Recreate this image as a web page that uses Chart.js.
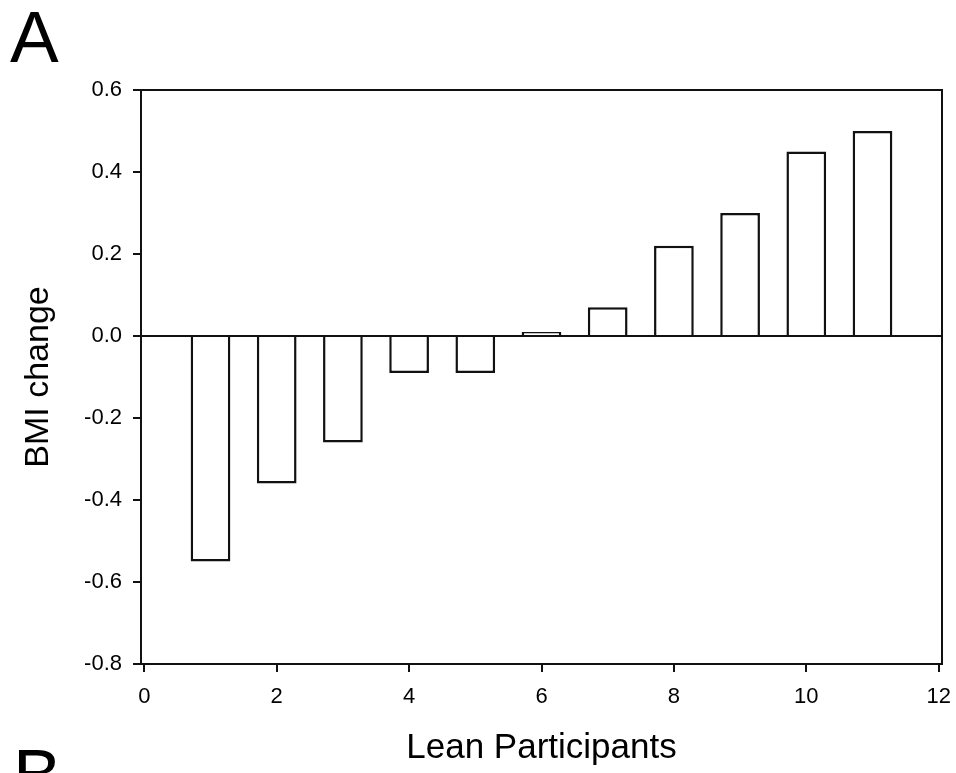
<!DOCTYPE html>
<html>
<head>
<meta charset="utf-8">
<title>BMI change – lean participants</title>
<script src="https://cdn.jsdelivr.net/npm/chart.js@4"></script>
<style>
  html, body { margin: 0; padding: 0; background: #fff; }
  canvas { display: block; }
</style>
</head>
<body>
<canvas id="bmiChart" width="956" height="773"></canvas>
<script>
// data
const participants = [1, 2, 3, 4, 5, 6, 7, 8, 9, 10, 11];
const bmiChange = [-0.55, -0.36, -0.26, -0.09, -0.09, 0.01, 0.07, 0.22, 0.30, 0.45, 0.50];
const xTickValues = [0, 2, 4, 6, 8, 10, 12];
const yTickValues = [-0.8, -0.6, -0.4, -0.2, 0.0, 0.2, 0.4, 0.6];
const panelLetters = ['A', 'B'];

const FONT = '"Liberation Sans", Arial, sans-serif';
const INK = '#111';

// box around the plot area + the big panel letters
const framePlugin = {
  id: 'frame',
  afterDatasetsDraw(chart) {
    const { ctx, chartArea: a } = chart;
    ctx.save();
    ctx.strokeStyle = INK;
    ctx.lineWidth = 2;
    ctx.strokeRect(a.left, a.top, a.right - a.left, a.bottom - a.top);
    ctx.restore();
  },
  afterDraw(chart) {
    const { ctx } = chart;
    ctx.save();
    ctx.fillStyle = '#000';
    ctx.font = '73px ' + FONT;
    ctx.textBaseline = 'alphabetic';
    ctx.fillText(panelLetters[0], 10, 62);
    ctx.fillText(panelLetters[1], 13, 800);
    ctx.restore();
  }
};

new Chart(document.getElementById('bmiChart'), {
  type: 'bar',
  data: {
    datasets: [{
      data: participants.map((p, i) => ({ x: p, y: bmiChange[i] })),
      backgroundColor: '#fff',
      borderColor: INK,
      borderWidth: 2.5,
      barPercentage: 0.6,
      categoryPercentage: 1
    }]
  },
  options: {
    responsive: false,
    animation: false,
    layout: { padding: { top: 90, right: 14, left: 0, bottom: 0 } },
    plugins: { legend: { display: false }, tooltip: { enabled: false } },
    scales: {
      x: {
        type: 'linear',
        offset: false,
        min: -0.05,
        max: 12.05,
        afterBuildTicks: s => { s.ticks = xTickValues.map(v => ({ value: v })); },
        afterFit: s => { s.height = 109; s.paddingLeft = 0; s.paddingRight = 0; },
        grid: { offset: false, color: 'transparent', tickColor: INK, tickLength: 8, lineWidth: 2 },
        border: { display: true, color: INK, width: 2 },
        ticks: { color: '#000', padding: 12, font: { family: FONT, size: 22 }, maxRotation: 0 },
        title: { display: true, text: 'Lean Participants', color: '#000', font: { family: FONT, size: 35 }, padding: { top: 0, bottom: 4 } }
      },
      y: {
        min: -0.8,
        max: 0.6,
        afterBuildTicks: s => { s.ticks = yTickValues.map(v => ({ value: v })); },
        afterFit: s => { s.width = 141; s.paddingTop = 0; s.paddingBottom = 0; },
        grid: {
          color: c => (c.tick && Math.abs(c.tick.value) < 1e-9 ? INK : 'transparent'),
          tickColor: INK,
          tickLength: 8,
          lineWidth: 2
        },
        border: { display: true, color: INK, width: 2 },
        ticks: {
          color: '#000',
          padding: 11,
          font: { family: FONT, size: 22 },
          callback: v => (Math.abs(v) < 1e-9 ? 0 : v).toFixed(1)
        },
        title: { display: true, text: 'BMI change', color: '#000', font: { family: FONT, size: 34 }, padding: { top: 18, bottom: 0 } }
      }
    }
  },
  plugins: [framePlugin]
});
</script>
</body>
</html>
